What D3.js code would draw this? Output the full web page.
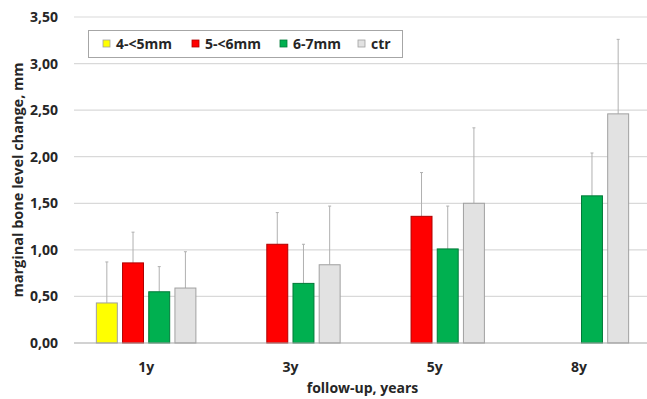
<!DOCTYPE html>
<html>
<head>
<meta charset="utf-8">
<script src="https://cdn.jsdelivr.net/npm/d3@7"></script>
<style>
    body { margin: 0; background: #fff; }
    text { font-family: "Open Sans", "Liberation Sans", sans-serif; font-weight: bold; fill: #262626; }
</style>
</head>
<body>
<div id="chart"></div>
<script>
"use strict"

// follow-up groups and implant-length series
const categories = ["1y", "3y", "5y", "8y"];
const series = ["4-<5mm", "5-<6mm", "6-7mm", "ctr"];
const seriesColors = ["#ffff00", "#ff0000", "#00b050", "#e2e2e2"];
const seriesStroke = ["#a0a0a0", "#b00000", "#007a38", "#a0a0a0"];

// mean values (null = no bar)
const means = [
    [0.43, 0.86, 0.55, 0.59],
    [null, 1.06, 0.64, 0.84],
    [null, 1.36, 1.01, 1.50],
    [null, null, 1.58, 2.46]
];
// upper end of the error bar
const errTops = [
    [0.87, 1.19, 0.82, 0.98],
    [null, 1.40, 1.06, 1.47],
    [null, 1.83, 1.47, 2.31],
    [null, null, 2.04, 3.26]
];
const yTicks = [0, 0.5, 1, 1.5, 2, 2.5, 3, 3.5];

let width = 647, height = 399;
let margin = { top: 17, left: 74, right: -4, bottom: 56 };

let svg = d3.select("#chart").append("svg")
    .attr("width", width)
    .attr("height", height);

let y = d3.scaleLinear()
    .domain([0, 3.5])
    .range([height - margin.bottom, margin.top]);

let x0 = d3.scaleBand()
    .domain(categories)
    .range([margin.left, width - margin.right])
    .paddingInner(0.31)
    .paddingOuter(0.155);

let x1 = d3.scaleBand()
    .domain(series)
    .range([0, x0.bandwidth()])
    .paddingInner(0.2);

// gridlines
svg.append("g")
    .selectAll("line")
    .data(yTicks.slice(1))
    .enter().append("line")
    .attr("x1", margin.left)
    .attr("x2", width)
    .attr("y1", d => y(d))
    .attr("y2", d => y(d))
    .style("stroke", "#d9d9d9")
    .style("stroke-width", 1.2);

// y tick labels
svg.append("g")
    .selectAll("text")
    .data(yTicks)
    .enter().append("text")
    .attr("x", 58)
    .attr("y", d => y(d) + 5)
    .attr("text-anchor", "end")
    .style("font-size", "14px")
    .text(d => d3.format(".2f")(d).replace(".", ","));

// bars
let groups = svg.append("g")
    .selectAll("g")
    .data(categories)
    .enter().append("g")
    .attr("transform", d => "translate(" + x0(d) + ",0)");

groups.each(function (cat, ci) {
    let g = d3.select(this);
    series.forEach((s, si) => {
        let v = means[ci][si];
        if (v === null) return;
        let bx = x1(s);
        // error bar
        g.append("line")
            .attr("x1", bx + x1.bandwidth() / 2)
            .attr("x2", bx + x1.bandwidth() / 2)
            .attr("y1", y(v))
            .attr("y2", y(errTops[ci][si]))
            .style("stroke", "#b0b0b0")
            .style("stroke-width", 1);
        g.append("line")
            .attr("x1", bx + x1.bandwidth() / 2 - 1.5)
            .attr("x2", bx + x1.bandwidth() / 2 + 1.5)
            .attr("y1", y(errTops[ci][si]))
            .attr("y2", y(errTops[ci][si]))
            .style("stroke", "#b0b0b0")
            .style("stroke-width", 1);
        g.append("rect")
            .attr("x", bx)
            .attr("y", y(v))
            .attr("width", x1.bandwidth())
            .attr("height", y(0) - y(v))
            .style("fill", seriesColors[si])
            .style("stroke", seriesStroke[si])
            .style("stroke-width", 1);
    });
});

// baseline
svg.append("line")
    .attr("x1", margin.left)
    .attr("x2", width)
    .attr("y1", y(0))
    .attr("y2", y(0))
    .style("stroke", "#a6a6a6")
    .style("stroke-width", 1.2);

// x labels
svg.append("g")
    .selectAll("text")
    .data(categories)
    .enter().append("text")
    .attr("x", d => x0(d) + x0.bandwidth() / 2)
    .attr("y", 372)
    .attr("text-anchor", "middle")
    .style("font-size", "14px")
    .text(d => d);

// axis titles
svg.append("text")
    .attr("x", (margin.left + 651) / 2)
    .attr("y", 393)
    .attr("text-anchor", "middle")
    .style("font-size", "14px")
    .text("follow-up, years");

svg.append("text")
    .attr("transform", "translate(23," + ((y(0) + y(3.5)) / 2) + ") rotate(-90)")
    .attr("text-anchor", "middle")
    .style("font-size", "14.5px")
    .text("marginal bone level change, mm");

// legend
let legend = svg.append("g");
legend.append("rect")
    .attr("x", 88.5)
    .attr("y", 30.5)
    .attr("width", 314)
    .attr("height", 27)
    .style("fill", "#fff")
    .style("stroke", "#a6a6a6")
    .style("stroke-width", 1);

const legendX = [103, 192, 280, 358];
series.forEach((s, si) => {
    legend.append("rect")
        .attr("x", legendX[si])
        .attr("y", 40)
        .attr("width", 7)
        .attr("height", 7)
        .style("fill", seriesColors[si])
        .style("stroke", seriesStroke[si])
        .style("stroke-width", 0.8);
    legend.append("text")
        .attr("x", legendX[si] + 13)
        .attr("y", 49)
        .style("font-size", "14px")
        .text(s);
});
</script>
</body>
</html>
